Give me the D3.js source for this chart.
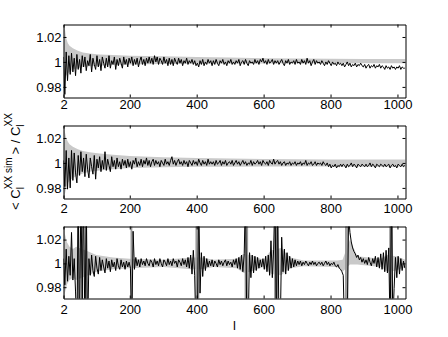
<!DOCTYPE html>
<html>
<head>
<meta charset="utf-8">
<script src="https://cdn.jsdelivr.net/npm/d3@7"></script>
<style>
body { margin: 0; background: #fff; }
text { font-family: "Liberation Sans", Helvetica, Arial, sans-serif; }
</style>
</head>
<body>
<div class="container"></div>
<script>
// multipoles sampled every 4 (2, 6, ... 1022)
var ells = d3.range(2, 1023, 4)

var xTicks = [2, 200, 400, 600, 800, 1000]
var yTicks = [0.98, 1, 1.02]

// top panel, 16 values per row
var ratio1 = [
  1.004, 0.974, 1.008, 0.985, 1.005, 0.990, 1.007, 0.992, 1.003, 0.989, 1.006, 0.994, 1.002, 0.991, 1.005, 0.996,
  1.004, 0.993, 1.001, 0.997, 1.006, 0.992, 1.003, 0.998, 0.994, 1.005, 0.996, 1.002, 0.993, 1.004, 0.999, 0.995,
  1.003, 0.996, 1.005, 0.995, 1.001, 0.998, 1.004, 0.994, 1.002, 0.997, 1.003, 0.999, 0.995, 1.004, 0.998, 1.002,
  0.996, 1.003, 0.999, 1.004, 0.997, 1.002, 0.998, 1.003, 0.996, 1.001, 1.004, 0.998, 1.002, 0.997, 1.003, 0.999,
  1.004, 0.999, 1.003, 0.998, 1.005, 1.000, 1.004, 0.998, 1.003, 1.001, 0.998, 1.004, 0.999, 1.002, 0.997, 1.003,
  0.998, 1.002, 0.997, 1.003, 1.000, 0.998, 1.003, 0.999, 1.002, 0.997, 1.001, 0.999, 1.003, 0.998, 1.001, 0.999,
  1.002, 0.998, 1.001, 0.997, 0.999, 0.996, 1.001, 0.998, 1.002, 0.997, 1.000, 0.998, 1.002, 0.999, 1.001, 0.997,
  1.001, 0.998, 1.002, 0.999, 0.997, 1.001, 0.999, 1.002, 0.998, 1.000, 0.997, 1.001, 0.999, 1.002, 0.998, 1.000,
  0.998, 1.001, 0.999, 1.002, 0.997, 1.000, 1.001, 0.998, 1.002, 0.999, 0.997, 1.001, 0.999, 1.000, 0.998, 1.002,
  0.999, 1.001, 0.998, 1.002, 1.000, 1.003, 0.999, 1.001, 0.998, 1.002, 0.999, 1.000, 1.002, 0.998, 1.001, 0.999,
  1.001, 0.998, 1.000, 1.002, 0.999, 0.997, 1.001, 0.999, 1.002, 0.998, 1.000, 0.999, 1.001, 0.998, 1.002, 0.999,
  1.000, 0.998, 1.002, 0.999, 1.001, 0.998, 1.003, 0.999, 1.001, 0.997, 1.000, 1.002, 0.998, 1.001, 0.999, 1.000,
  0.998, 1.001, 0.999, 0.997, 1.000, 0.998, 1.001, 0.999, 0.997, 1.000, 0.998, 0.999, 0.997, 1.000, 0.998, 0.999,
  0.997, 0.999, 0.996, 0.998, 1.000, 0.997, 0.999, 0.996, 0.998, 0.997, 0.999, 0.996, 0.998, 0.997, 0.999, 0.997,
  0.996, 0.998, 0.995, 0.997, 0.998, 0.995, 0.997, 0.996, 0.998, 0.995, 0.997, 0.996, 0.998, 0.995, 0.997, 0.996,
  0.994, 0.997, 0.995, 0.996, 0.994, 0.997, 0.995, 0.996, 0.994, 0.996, 0.995, 0.997, 0.994, 0.996, 0.995, 0.995]

// middle panel
var ratio2 = [
  1.002, 0.981, 1.010, 0.979, 1.004, 0.980, 1.010, 0.986, 1.008, 0.992, 0.984, 1.006, 0.990, 1.009, 0.993, 1.004,
  0.989, 1.007, 0.995, 0.988, 1.004, 0.997, 0.991, 1.006, 0.987, 1.003, 0.996, 1.005, 0.993, 1.002, 0.995, 1.009,
  0.994, 1.003, 0.998, 0.993, 1.005, 0.997, 1.002, 0.995, 1.004, 0.997, 1.001, 0.995, 1.003, 0.998, 1.002, 0.996,
  1.003, 0.997, 1.001, 0.995, 1.002, 0.999, 1.004, 0.997, 1.001, 0.998, 1.003, 0.997, 1.002, 0.999, 1.004, 0.998,
  1.002, 0.997, 1.001, 1.003, 0.998, 1.002, 0.999, 1.001, 0.997, 1.002, 1.000, 0.998, 1.003, 0.999, 1.001, 0.998,
  1.002, 1.005, 0.999, 1.002, 0.998, 1.001, 1.003, 0.999, 1.001, 0.998, 1.002, 0.999, 1.001, 0.997, 1.002, 1.000,
  0.998, 1.002, 0.999, 1.001, 0.998, 1.003, 1.000, 0.998, 1.002, 0.999, 1.001, 0.998, 1.003, 0.999, 1.001, 0.999,
  1.001, 0.998, 1.002, 0.999, 1.000, 1.002, 0.998, 1.001, 0.999, 1.002, 0.998, 1.000, 1.001, 0.999, 1.002, 0.998,
  1.000, 1.002, 0.999, 1.001, 0.998, 1.000, 1.002, 0.999, 1.001, 0.998, 1.000, 0.999, 1.002, 0.998, 1.001, 0.999,
  1.000, 1.002, 0.999, 1.001, 0.998, 1.002, 1.000, 0.999, 1.001, 0.998, 1.002, 1.000, 0.999, 1.003, 0.999, 1.001,
  1.002, 0.999, 1.001, 0.998, 1.000, 1.001, 0.998, 1.000, 0.999, 1.001, 0.998, 1.000, 0.999, 1.001, 0.998, 1.000,
  0.999, 1.001, 0.998, 1.000, 0.999, 1.002, 0.998, 1.000, 0.999, 1.001, 0.998, 0.999, 1.001, 0.998, 1.000, 0.999,
  1.000, 0.998, 1.001, 0.999, 0.998, 1.000, 0.997, 0.999, 0.996, 0.998, 0.997, 0.999, 0.996, 0.998, 0.997, 0.999,
  0.997, 0.999, 0.998, 0.996, 0.999, 0.997, 0.998, 1.000, 0.997, 0.999, 0.998, 0.996, 0.999, 0.998, 0.997, 0.999,
  0.998, 0.997, 0.999, 0.997, 0.998, 1.000, 0.997, 0.999, 0.998, 0.996, 0.999, 0.998, 0.997, 0.999, 0.998, 0.997,
  0.999, 0.997, 0.998, 0.999, 0.996, 0.998, 0.999, 0.997, 0.998, 0.996, 0.999, 0.998, 0.997, 0.999, 0.997, 0.998]

// bottom panel (0.94 / 1.06 = off the scale)
var ratio3 = [
  1.004, 0.982, 1.012, 0.985, 1.006, 0.990, 1.026, 0.986, 1.004, 0.976, 0.94, 1.06, 0.94, 1.06, 0.97, 1.06,
  0.94, 1.05, 0.94, 1.004, 0.990, 1.007, 0.994, 0.989, 1.006, 0.996, 0.991, 1.005, 0.994, 1.003, 0.997, 0.992,
  1.004, 0.996, 1.002, 0.993, 1.003, 0.997, 1.001, 0.994, 1.004, 0.998, 0.995, 1.003, 0.997, 1.001, 0.995, 1.002,
  0.997, 1.001, 0.996, 0.94, 1.027, 0.995, 1.005, 0.998, 1.003, 0.997, 1.004, 0.999, 1.002, 0.998, 1.004, 1.000,
  0.998, 1.003, 1.001, 0.997, 1.004, 0.999, 1.002, 0.998, 1.004, 1.000, 0.997, 1.003, 1.001, 0.998, 1.004, 0.999,
  1.002, 0.998, 1.004, 1.000, 1.002, 0.997, 1.003, 1.001, 0.998, 1.004, 0.999, 1.003, 0.997, 1.005, 0.996, 1.007,
  0.991, 1.011, 0.990, 0.94, 0.95, 1.06, 0.975, 1.009, 0.989, 1.006, 0.994, 1.004, 0.997, 1.002, 0.998, 1.003,
  0.997, 1.002, 1.000, 0.997, 1.003, 0.999, 1.002, 0.998, 1.001, 1.003, 0.998, 1.002, 0.999, 1.001, 0.997, 1.003,
  0.999, 1.004, 0.996, 1.005, 0.995, 1.007, 0.993, 1.008, 1.06, 0.94, 0.95, 1.009, 0.988, 1.007, 0.992, 1.006,
  0.994, 1.005, 0.996, 1.003, 0.997, 1.004, 0.995, 1.006, 0.993, 1.007, 0.990, 1.019, 0.988, 1.012, 1.06, 0.94,
  1.06, 0.94, 0.95, 1.022, 0.993, 1.012, 0.991, 1.009, 0.994, 1.006, 0.996, 1.004, 0.997, 1.003, 0.998, 1.002,
  0.999, 1.002, 0.998, 1.001, 0.999, 1.002, 1.000, 0.998, 1.001, 0.999, 1.002, 0.999, 1.001, 0.998, 1.000, 1.001,
  0.999, 1.001, 0.998, 1.000, 1.002, 0.999, 1.001, 0.998, 1.000, 0.999, 1.001, 0.998, 0.997, 0.999, 0.996, 0.995,
  0.993, 0.990, 0.94, 0.94, 0.95, 1.04, 1.026, 1.018, 1.013, 1.010, 1.008, 1.005, 1.007, 1.003, 1.005, 1.001,
  1.004, 1.000, 1.003, 0.999, 1.005, 1.001, 0.998, 1.004, 1.000, 1.006, 0.997, 1.005, 0.996, 1.008, 0.995, 1.009,
  0.993, 1.011, 0.992, 1.013, 0.94, 1.06, 0.95, 0.979, 1.005, 0.988, 1.006, 0.991, 1.004, 0.994, 1.002, 0.996]

// grey bands
var bandEll = [2, 4, 6, 10, 15, 20, 30, 45, 60, 80, 110, 150, 200, 300, 400, 500, 600, 700, 800, 900, 1024]
var bandLo1 = [0.975, 0.982, 0.986, 0.989, 0.991, 0.992, 0.994, 0.995, 0.996, 0.9965, 0.997, 0.9975, 0.998, 0.9983, 0.9985, 0.9987, 0.9988, 0.9989, 0.999, 0.999, 0.999]
var bandHi1 = [1.045, 1.033, 1.027, 1.019, 1.015, 1.013, 1.011, 1.009, 1.0075, 1.0067, 1.006, 1.0055, 1.005, 1.0045, 1.004, 1.0035, 1.003, 1.0028, 1.0026, 1.0024, 1.0023]
var bandLo2 = [0.96, 0.97, 0.975, 0.98, 0.984, 0.986, 0.988, 0.990, 0.9915, 0.993, 0.994, 0.995, 0.996, 0.9965, 0.997, 0.997, 0.9972, 0.9972, 0.9971, 0.997, 0.997]
var bandHi2 = [1.04, 1.03, 1.025, 1.02, 1.017, 1.015, 1.013, 1.011, 1.0095, 1.0085, 1.0075, 1.0065, 1.0055, 1.0045, 1.004, 1.0035, 1.0032, 1.003, 1.0028, 1.0027, 1.0027]

var bandEll3 = [2, 6, 12, 20, 30, 40, 76, 100, 150, 200, 300, 385, 416, 450, 520, 540, 560, 600, 622, 652, 680, 720, 820, 836, 858, 880, 950, 970, 996, 1024]
var bandLo3 = [0.95, 0.975, 0.982, 0.986, 0.988, 0.986, 0.99, 0.993, 0.995, 0.996, 0.997, 0.995, 0.995, 0.997, 0.996, 0.992, 0.993, 0.997, 0.991, 0.99, 0.996, 0.9975, 0.997, 0.993, 0.999, 0.999, 0.997, 0.993, 0.994, 0.997]
var bandHi3 = [1.05, 1.025, 1.018, 1.014, 1.012, 1.014, 1.01, 1.007, 1.005, 1.004, 1.003, 1.005, 1.005, 1.003, 1.004, 1.008, 1.007, 1.003, 1.011, 1.013, 1.005, 1.0025, 1.0025, 1.003, 1.02, 1.006, 1.004, 1.007, 1.006, 1.003]
// multipoles where the grey curve also diverges
var spikeEll3 = [46, 58, 70, 205, 399, 405, 546, 551, 634, 640, 846, 850, 978, 984]

var width = 448,
  height = 337,
  left = 63.5,
  right = 405.5;

var svg = d3.select(".container").append("svg")
  .attr("width", width)
  .attr("height", height);

var panels = [
  { top: 24.5, bottom: 97.5, ydom: [0.9715, 1.03], v: ratio1, bl: bandEll, lo: bandLo1, hi: bandHi1, spikes: [], pad: 2 },
  { top: 125.5, bottom: 198.5, ydom: [0.9715, 1.03], v: ratio2, bl: bandEll, lo: bandLo2, hi: bandHi2, spikes: [], pad: 5 },
  { top: 226.5, bottom: 298.5, ydom: [0.9705, 1.031], v: ratio3, bl: bandEll3, lo: bandLo3, hi: bandHi3, spikes: spikeEll3, pad: 6 }
];

var x = d3.scaleLinear().domain([2, 1024]).range([left, right]);

panels.forEach(function(p, k) {
  var y = d3.scaleLinear().domain(p.ydom).range([p.bottom, p.top]);
  var g = svg.append("g");

  g.append("clipPath").attr("id", "clip" + k)
    .append("rect")
    .attr("x", left).attr("y", p.top)
    .attr("width", right - left).attr("height", p.bottom - p.top);

  var band = d3.area()
    .x(function(d) { return x(d) })
    .y0(function(d, i) { return y(p.lo[i]) })
    .y1(function(d, i) { return y(p.hi[i]) });

  g.append("path")
    .datum(p.bl)
    .attr("d", band)
    .attr("fill", "#c9c9c9")
    .attr("clip-path", "url(#clip" + k + ")");

  g.selectAll(".spike")
    .data(p.spikes)
    .enter().append("line")
    .attr("class", "spike")
    .attr("x1", function(d) { return x(d) })
    .attr("x2", function(d) { return x(d) })
    .attr("y1", p.top)
    .attr("y2", p.bottom)
    .attr("stroke", "#999")
    .attr("stroke-width", 1.8);

  var line = d3.line()
    .x(function(d, i) { return x(ells[i]) })
    .y(function(d) { return y(d) });

  g.append("path")
    .datum(p.v)
    .attr("d", line)
    .attr("fill", "none")
    .attr("stroke", "#000")
    .attr("stroke-width", 1)
    .attr("clip-path", "url(#clip" + k + ")");

  // box with inward ticks
  var axes = [
    g.append("g").attr("transform", "translate(0," + p.bottom + ")")
      .call(d3.axisBottom(x).tickValues(xTicks).tickSize(-3).tickSizeOuter(0).tickPadding(p.pad).tickFormat(d3.format("d"))),
    g.append("g").attr("transform", "translate(0," + p.top + ")")
      .call(d3.axisTop(x).tickValues(xTicks).tickSize(-3).tickSizeOuter(0).tickFormat("")),
    g.append("g").attr("transform", "translate(" + left + ",0)")
      .call(d3.axisLeft(y).tickValues(yTicks).tickSize(-3).tickSizeOuter(0).tickPadding(2).tickFormat(d3.format("~g"))),
    g.append("g").attr("transform", "translate(" + right + ",0)")
      .call(d3.axisRight(y).tickValues(yTicks).tickSize(-3).tickSizeOuter(0).tickFormat(""))
  ];
  axes.forEach(function(a) {
    a.attr("font-size", 13).attr("font-family", null);
    a.selectAll("path, line").attr("stroke", "#000");
    a.selectAll("text").attr("fill", "#000");
  });
});

// x label
svg.append("text")
  .attr("x", (left + right) / 2)
  .attr("y", 330)
  .attr("text-anchor", "middle")
  .attr("font-size", 13)
  .text("l");

// y label
var ylab = svg.append("text")
  .attr("transform", "translate(19.5,161.5) rotate(-90)")
  .attr("text-anchor", "middle")
  .attr("font-size", 13);
ylab.append("tspan").text("< C");
ylab.append("tspan").attr("font-size", 10).attr("dy", 4).text("l");
ylab.append("tspan").attr("font-size", 10).attr("dx", -2).attr("dy", -12).text("XX sim");
ylab.append("tspan").attr("dy", 8).attr("dx", 3).text(">  /  C");
ylab.append("tspan").attr("font-size", 10).attr("dy", 4).text("l");
ylab.append("tspan").attr("font-size", 10).attr("dx", -2).attr("dy", -12).text("XX");
</script>
</body>
</html>
